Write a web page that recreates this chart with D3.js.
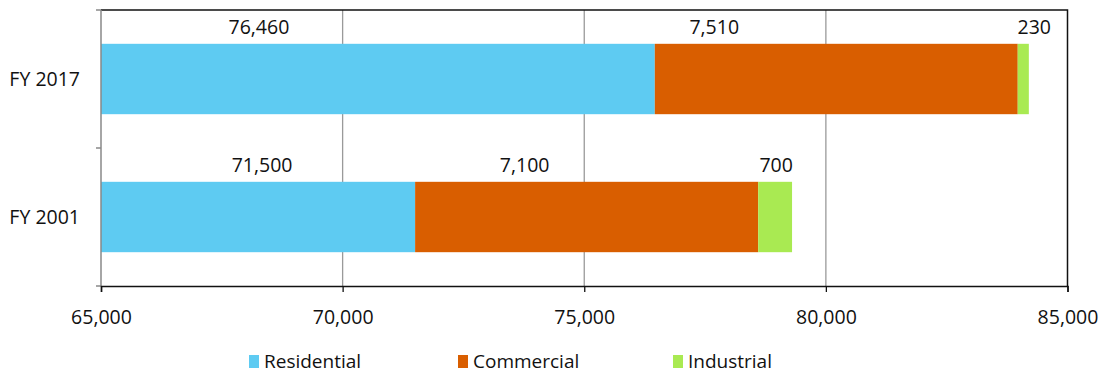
<!DOCTYPE html>
<html>
<head>
<meta charset="utf-8">
<script src="https://cdn.jsdelivr.net/npm/d3@7"></script>
<style>
  body { margin: 0; background: #fff; }
  text { font-family: "Open Sans", sans-serif; fill: #111; }
</style>
</head>
<body>
<div class="container"></div>
<script>
// chart data
const categories = ["FY 2017", "FY 2001"];
const seriesNames = ["Residential", "Commercial", "Industrial"];
const residential = [76460, 71500];
const commercial = [7510, 7100];
const industrial = [230, 700];
const xTicks = [65000, 70000, 75000, 80000, 85000];

const colors = ["#5ECBF2", "#D95E00", "#A9EA52"];

// hand-placed data labels in the original, px nudge from segment centre
const labelNudge = [[-119, -122, 11], [4, -62, 1]];

const W = 1102, H = 373;
const plotL = 101, plotR = 1067.5, plotT = 10, plotB = 286;

const svg = d3.select('.container').append('svg')
    .attr('width', W)
    .attr('height', H);

const x = d3.scaleLinear().domain([65000, 85000]).range([plotL, plotR]);
const y = d3.scaleBand().domain(categories).range([plotT, plotB])
    .paddingInner(0.49).paddingOuter(0.245);

// stack rows
const rows = categories.map((c, i) => ({
    cat: c,
    Residential: residential[i],
    Commercial: commercial[i],
    Industrial: industrial[i]
}));
const stacked = d3.stack().keys(seriesNames)(rows);

// gridlines
svg.append('g').selectAll('line').data(xTicks.slice(1, -1)).enter().append('line')
    .attr('x1', d => x(d)).attr('x2', d => x(d))
    .attr('y1', plotT).attr('y2', plotB)
    .attr('stroke', '#9a9a9a').attr('stroke-width', 1.3);

// frame top + right
svg.append('path')
    .attr('d', `M${plotL},${plotT}H${plotR}V${plotB}`)
    .attr('fill', 'none').attr('stroke', '#111').attr('stroke-width', 1.5);

// bars
stacked.forEach((s, si) => {
    svg.append('g').selectAll('rect').data(s).enter().append('rect')
        .attr('x', d => x(Math.max(d[0], 65000)))
        .attr('width', d => x(d[1]) - x(Math.max(d[0], 65000)))
        .attr('y', d => y(d.data.cat))
        .attr('height', y.bandwidth())
        .attr('fill', colors[si]);
});

// data labels
stacked.forEach((s, si) => {
    svg.append('g').selectAll('text').data(s).enter().append('text')
        .attr('x', (d, i) => (x(Math.max(d[0], 65000)) + x(d[1])) / 2 + labelNudge[i][si])
        .attr('y', d => y(d.data.cat) - 10)
        .attr('text-anchor', 'middle')
        .attr('font-size', '19.5px')
        .text(d => d3.format(',')(d[1] - d[0]));
});

// left axis (grey)
const yAxis = svg.append('g');
yAxis.append('line')
    .attr('x1', plotL).attr('x2', plotL).attr('y1', plotT).attr('y2', plotB)
    .attr('stroke', '#888').attr('stroke-width', 1.5);
const yEdges = [plotT].concat(categories.map(c => y(c) + y.bandwidth() + y.step() * y.paddingInner() / 2));
yEdges[yEdges.length - 1] = plotB;
yAxis.selectAll('.tk').data(yEdges).enter().append('line')
    .attr('x1', plotL - 5).attr('x2', plotL).attr('y1', d => d).attr('y2', d => d)
    .attr('stroke', '#888').attr('stroke-width', 1.5);
yAxis.selectAll('text').data(categories).enter().append('text')
    .attr('x', 80)
    .attr('y', d => y(d) + y.bandwidth() / 2)
    .attr('dy', '0.35em')
    .attr('text-anchor', 'end')
    .attr('font-size', '19.5px')
    .text(d => d);

// bottom axis
const xAxis = svg.append('g').attr('transform', `translate(0,${plotB})`)
    .call(d3.axisBottom(x).tickValues(xTicks).tickSize(6).tickPadding(18).tickFormat(d3.format(',')));
xAxis.select('.domain').attr('stroke', '#111').attr('stroke-width', 1.5);
xAxis.selectAll('.tick line').attr('stroke', '#111').attr('stroke-width', 1.3);
xAxis.selectAll('.tick text')
    .attr('font-size', '19.5px')
    .attr('font-family', '"Open Sans", sans-serif')
    .attr('fill', '#111');

// legend
const legendX = [249, 458, 673];
const legend = svg.append('g').selectAll('g').data(seriesNames).enter().append('g')
    .attr('transform', (d, i) => `translate(${legendX[i]},355)`);
legend.append('rect')
    .attr('width', 10).attr('height', 13)
    .attr('fill', (d, i) => colors[i]);
legend.append('text')
    .attr('x', 15).attr('y', 12.5)
    .attr('font-size', '19px')
    .text(d => d);
</script>
</body>
</html>
